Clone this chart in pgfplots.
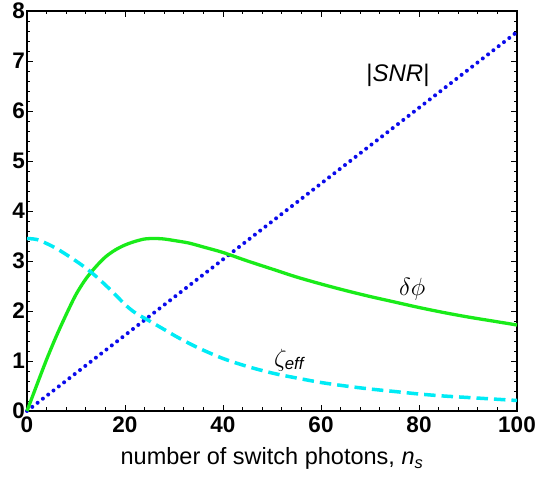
\documentclass[border=0pt]{standalone}
\usepackage{amsmath}
\usepackage{fontspec}
\setmainfont{Liberation Sans}
\usepackage{pgfplots}
\pgfplotsset{compat=1.18}
\definecolor{snrblue}{RGB}{10,10,235}
\definecolor{phigreen}{RGB}{25,235,25}
\definecolor{zetacyan}{RGB}{0,235,245}
\begin{document}
\begin{tikzpicture}
\useasboundingbox (-27pt,-67pt) rectangle (508pt,411pt);
\begin{axis}[
  width=490pt, height=400pt, scale only axis,
  xmin=0, xmax=100, ymin=0, ymax=8,
  xtick={0,20,40,60,80,100}, ytick={0,1,2,3,4,5,6,7,8},
  minor x tick num=4, minor y tick num=4,
  tick align=inside,
  major tick length=6pt, minor tick length=3.5pt,
  every tick/.style={black, line width=0.8pt},
  axis line style={line width=1.3pt},
  /pgf/number format/assume math mode=true,
  ticklabel style={font=\fontsize{22.5}{24}\selectfont\bfseries},
  xticklabel style={inner sep=1pt, yshift=-5pt},
  yticklabel style={inner sep=1pt, xshift=-1pt},
  xlabel={number of switch photons, \textit{n}\textsubscript{\textit{s}}},
  xlabel style={font=\fontsize{23.5}{26}\selectfont, at={(axis description cs:0.5,0)}, anchor=north, yshift=-33pt},
  clip=false,
]
\addplot[snrblue, line width=4pt, line cap=round, dash pattern=on 0pt off 6.7pt] coordinates {(0,0) (100,7.58)};
\addplot[phigreen, line width=3.3pt, smooth] coordinates {
(0,0) (2,0.52) (4,1.03) (6,1.50) (8,1.93) (10,2.33) (12,2.64) (14,2.88) (16,3.08) (18,3.22) (20,3.32) (22,3.39) (24,3.44) (26,3.45) (28,3.44) (30,3.41) (33,3.36) (36,3.28) (40,3.17) (45,3.00) (50,2.84) (55,2.68) (60,2.54) (65,2.41) (70,2.29) (75,2.18) (80,2.07) (85,1.97) (90,1.88) (95,1.80) (100,1.72)};
\addplot[zetacyan, line width=3.5pt, dash pattern=on 11.5pt off 6pt, smooth] coordinates {
(0,3.45) (2,3.43) (4,3.35) (6,3.25) (8,3.13) (10,3.00) (12,2.86) (14,2.70) (16,2.52) (18,2.33) (20,2.13) (22,1.97) (25,1.80) (28,1.63) (31,1.46) (35,1.26) (40,1.05) (45,0.89) (50,0.76) (55,0.66) (60,0.57) (65,0.50) (70,0.44) (75,0.39) (80,0.34) (85,0.30) (90,0.27) (95,0.24) (100,0.21)};
\node[font=\fontsize{24}{26}\selectfont] at (axis cs:75.7,6.72) {|\textit{SNR}|};
\node[font=\fontsize{24}{26}\selectfont] at (axis cs:78.6,2.44) {$\delta\phi$};
\node[font=\fontsize{24}{26}\selectfont] at (axis cs:53.5,1.02) {$\zeta_{\text{\itshape eff}}$};
\end{axis}
\end{tikzpicture}
\end{document}
